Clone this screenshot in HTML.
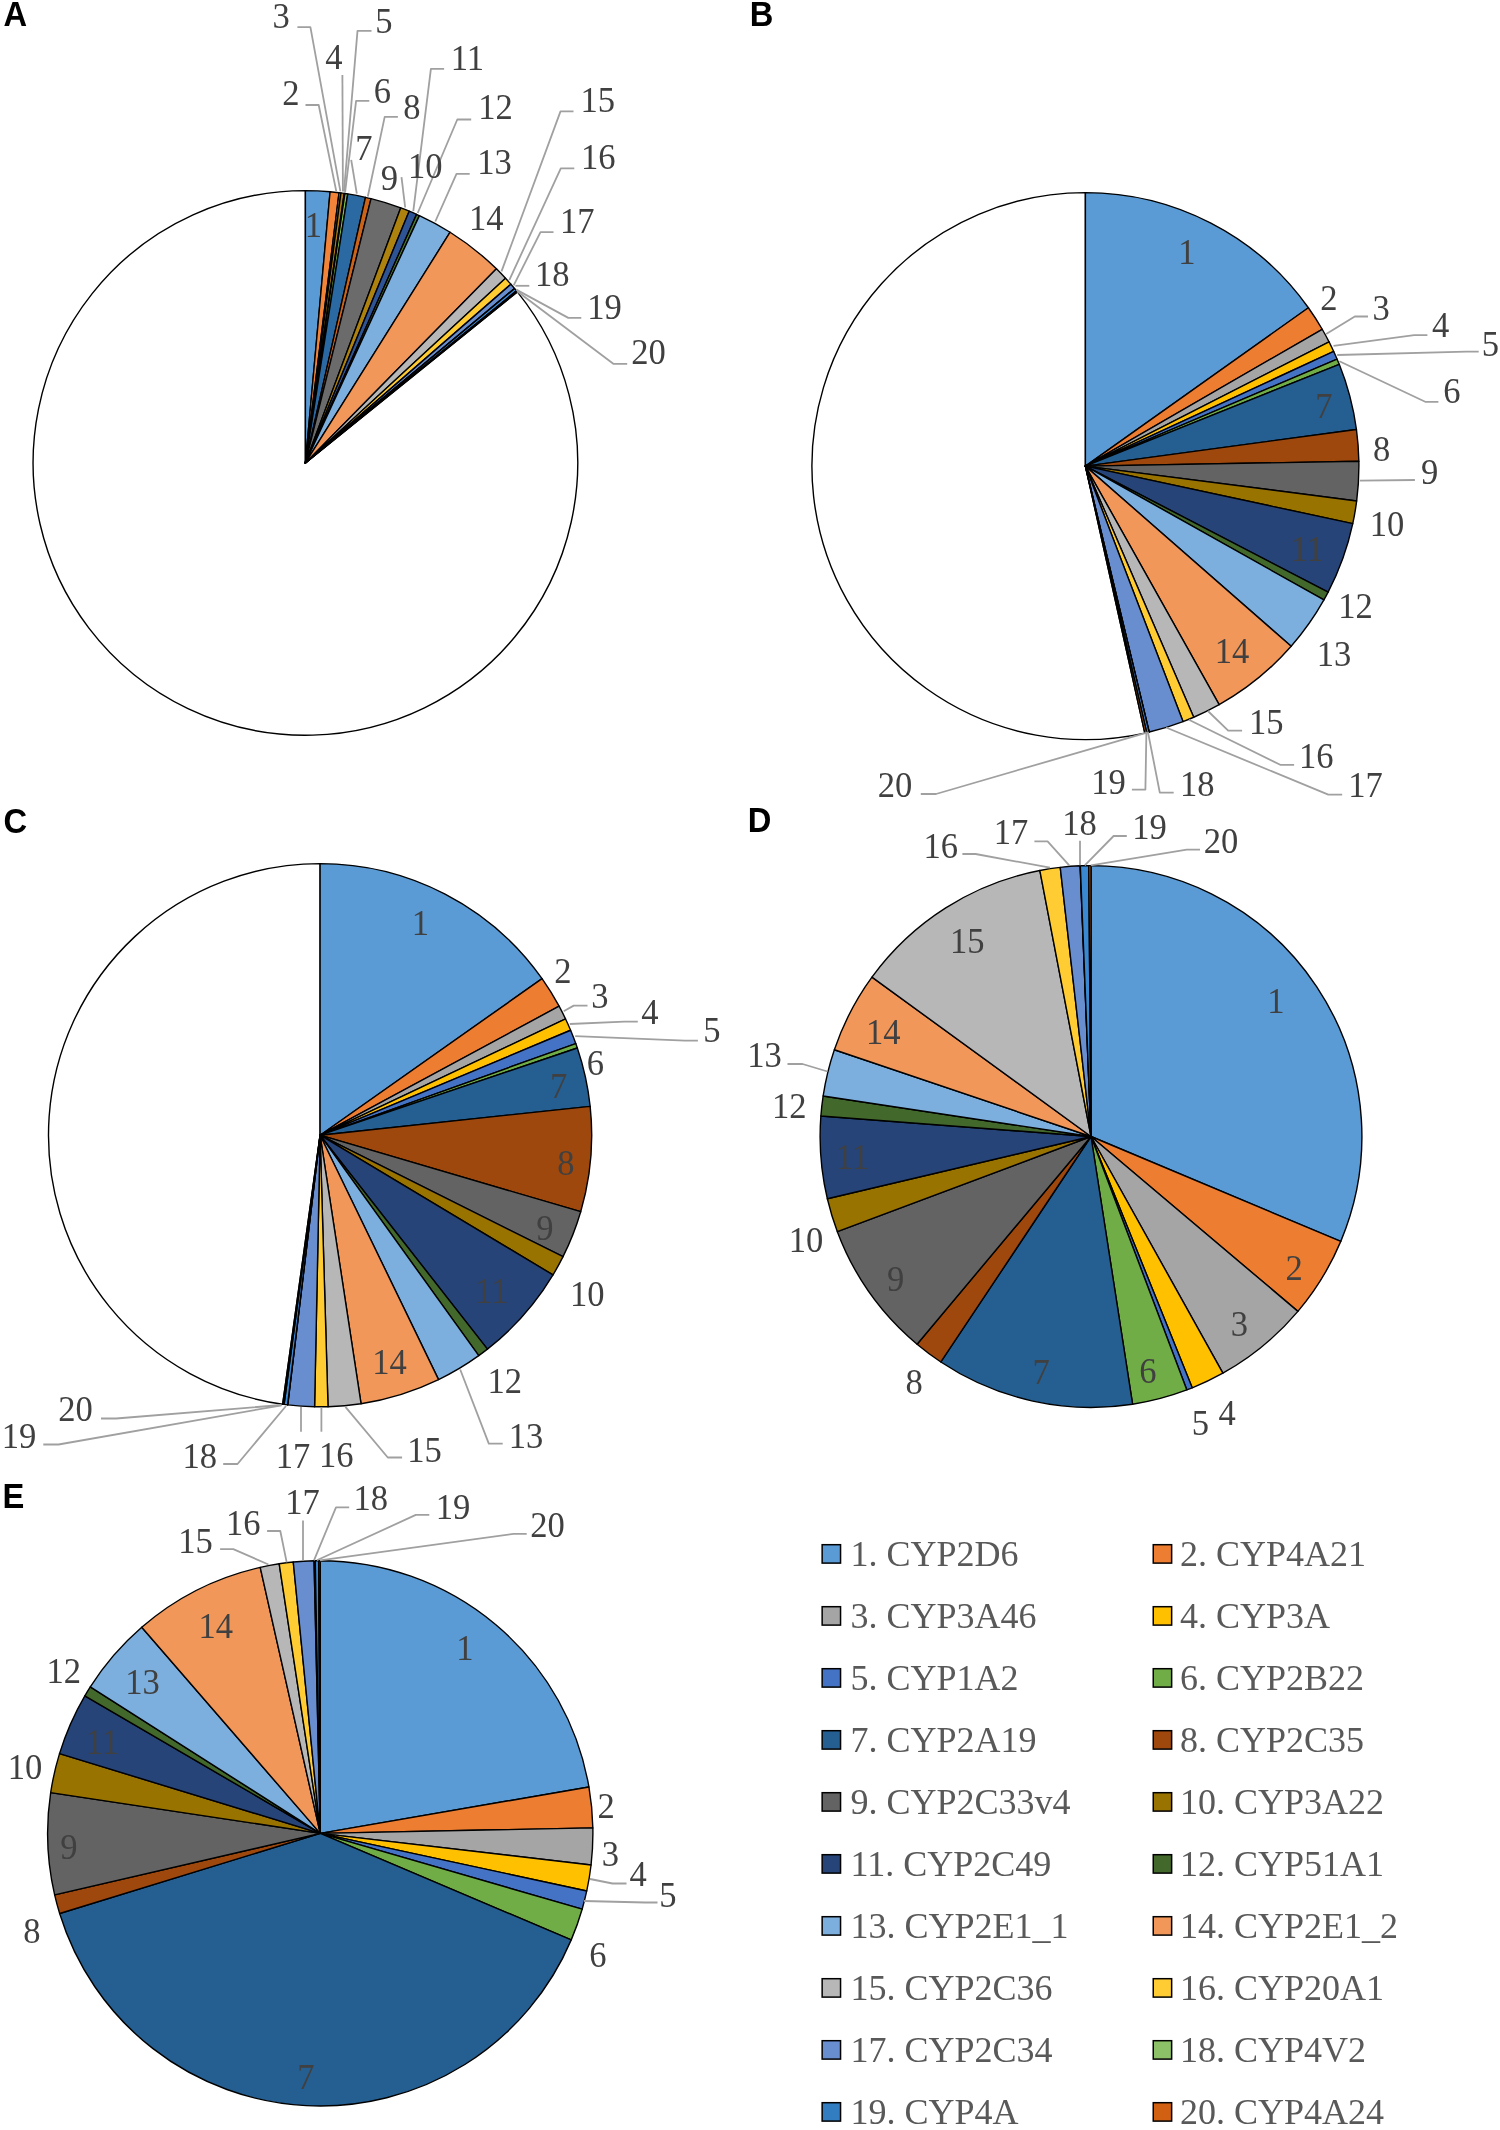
<!DOCTYPE html>
<html lang="en">
<head>
<meta charset="utf-8">
<title>CYP pie charts</title>
<style>
html,body{margin:0;padding:0;background:#fff;}
body{width:1500px;height:2130px;overflow:hidden;}
svg{display:block;will-change:transform;}
.lab{font-family:"Liberation Serif",serif;font-size:36px;fill:#404040;text-anchor:middle;}
.leg{font-family:"Liberation Serif",serif;font-size:36px;fill:#595959;}
.pan{font-family:"Liberation Sans",sans-serif;font-weight:bold;font-size:34.8px;fill:#000;}
.sl{stroke:#000;stroke-width:1.4;stroke-linejoin:round;}
.ld{fill:none;stroke:#A0A0A0;stroke-width:1.8;stroke-linejoin:round;}
</style>
</head>
<body>
<svg width="1500" height="2130" viewBox="0 0 1500 2130">
<rect width="1500" height="2130" fill="#fff"/>
<g id="pieA">
<path class="sl" fill="#fff" d="M305.4 462.9L517.32 291.91A272.3 272.3 0 1 1 305.4 190.6Z"/>
<path class="sl" fill="#5B9BD5" d="M305.4 462.9L305.4 190.6A272.3 272.3 0 0 1 330.08 191.72Z"/>
<path class="sl" fill="#F2843A" d="M305.4 462.9L330.08 191.72A272.3 272.3 0 0 1 339.06 192.69Z"/>
<path class="sl" fill="#A5A5A5" d="M305.4 462.9L339.06 192.69A272.3 272.3 0 0 1 340.94 192.93Z"/>
<path class="sl" fill="#B07A12" d="M305.4 462.9L340.94 192.93A272.3 272.3 0 0 1 344.24 193.38Z"/>
<path class="sl" fill="#4472C4" d="M305.4 462.9L344.24 193.38A272.3 272.3 0 0 1 344.94 193.49Z"/>
<path class="sl" fill="#7EC050" d="M305.4 462.9L344.94 193.49A272.3 272.3 0 0 1 347.76 193.92Z"/>
<path class="sl" fill="#2B69A2" d="M305.4 462.9L347.76 193.92A272.3 272.3 0 0 1 365.5 197.31Z"/>
<path class="sl" fill="#CB6418" d="M305.4 462.9L365.5 197.31A272.3 272.3 0 0 1 371.04 198.63Z"/>
<path class="sl" fill="#6B6B6B" d="M305.4 462.9L371.04 198.63A272.3 272.3 0 0 1 400.76 207.84Z"/>
<path class="sl" fill="#AE820F" d="M305.4 462.9L400.76 207.84A272.3 272.3 0 0 1 409.17 211.15Z"/>
<path class="sl" fill="#2F5496" d="M305.4 462.9L409.17 211.15A272.3 272.3 0 0 1 416.59 214.34Z"/>
<path class="sl" fill="#4C7A31" d="M305.4 462.9L416.59 214.34A272.3 272.3 0 0 1 419.4 215.61Z"/>
<path class="sl" fill="#7CAFDD" d="M305.4 462.9L419.4 215.61A272.3 272.3 0 0 1 450.1 232.23Z"/>
<path class="sl" fill="#F1975A" d="M305.4 462.9L450.1 232.23A272.3 272.3 0 0 1 496.43 268.85Z"/>
<path class="sl" fill="#B7B7B7" d="M305.4 462.9L496.43 268.85A272.3 272.3 0 0 1 505.52 278.24Z"/>
<path class="sl" fill="#FFCD33" d="M305.4 462.9L505.52 278.24A272.3 272.3 0 0 1 510.91 284.26Z"/>
<path class="sl" fill="#698ED0" d="M305.4 462.9L510.91 284.26A272.3 272.3 0 0 1 514.45 288.42Z"/>
<path class="sl" fill="#8CC168" d="M305.4 462.9L514.45 288.42A272.3 272.3 0 0 1 514.6 288.6Z"/>
<path class="sl" fill="#3E8FE0" d="M305.4 462.9L514.6 288.6A272.3 272.3 0 0 1 516.42 290.8Z"/>
<path class="sl" fill="#D26012" d="M305.4 462.9L516.42 290.8A272.3 272.3 0 0 1 517.32 291.91Z"/>
<polyline class="ld" points="305.5,105 318.7,105 336.3,191.4"/>
<polyline class="ld" points="297.4,27.2 310.4,27.2 340.4,191.4"/>
<polyline class="ld" points="342.4,75.1 342.9,191.4"/>
<polyline class="ld" points="371.5,30.8 357.5,30.8 344,191.4"/>
<polyline class="ld" points="369.3,100.8 356.1,100.8 345.1,192.1"/>
<polyline class="ld" points="351.2,159.9 356.8,193.6"/>
<polyline class="ld" points="397.9,116.9 384.7,116.9 367.8,196.5"/>
<polyline class="ld" points="401.5,177.2 405.2,207.5"/>
<polyline class="ld" points="444.1,68.9 430.9,68.9 413.3,211.2"/>
<polyline class="ld" points="471.2,119.5 457.3,119.5 417.7,213"/>
<polyline class="ld" points="469.7,173.8 456.5,173.8 435.3,221.5"/>
<polyline class="ld" points="573.5,111.4 560.5,111.4 501.5,271.4"/>
<polyline class="ld" points="574.3,168.3 560.8,168.3 509.3,280.1"/>
<polyline class="ld" points="553.5,232.1 540.5,232.1 513.7,285.3"/>
<polyline class="ld" points="529.3,285.8 515.4,285.8"/>
<polyline class="ld" points="581.3,317.9 568.3,317.9 516.3,289.6"/>
<polyline class="ld" points="627.2,363.8 613.3,363.8 517.1,291.3"/>
<text class="lab" transform="translate(313.5 237.4) scale(0.96 1.02)">1</text>
<text class="lab" transform="translate(290.8 105.4) scale(0.96 1.02)">2</text>
<text class="lab" transform="translate(281.2 28) scale(0.96 1.02)">3</text>
<text class="lab" transform="translate(334 68.9) scale(0.96 1.02)">4</text>
<text class="lab" transform="translate(384 32.7) scale(0.96 1.02)">5</text>
<text class="lab" transform="translate(382.5 103.1) scale(0.96 1.02)">6</text>
<text class="lab" transform="translate(363.8 160.4) scale(0.96 1.02)">7</text>
<text class="lab" transform="translate(411.8 119.2) scale(0.96 1.02)">8</text>
<text class="lab" transform="translate(389.4 190.4) scale(0.96 1.02)">9</text>
<text class="lab" transform="translate(425.3 177.9) scale(0.96 1.02)">10</text>
<text class="lab" transform="translate(467.3 69.9) scale(0.96 1.02)">11</text>
<text class="lab" transform="translate(495.5 119.4) scale(0.96 1.02)">12</text>
<text class="lab" transform="translate(494.6 174) scale(0.96 1.02)">13</text>
<text class="lab" transform="translate(486.3 230.2) scale(0.96 1.02)">14</text>
<text class="lab" transform="translate(597.8 111.5) scale(0.96 1.02)">15</text>
<text class="lab" transform="translate(598.2 168.7) scale(0.96 1.02)">16</text>
<text class="lab" transform="translate(577.3 232.5) scale(0.96 1.02)">17</text>
<text class="lab" transform="translate(552.2 286.2) scale(0.96 1.02)">18</text>
<text class="lab" transform="translate(604.6 318.6) scale(0.96 1.02)">19</text>
<text class="lab" transform="translate(648.4 364.2) scale(0.96 1.02)">20</text>
<text class="pan" transform="translate(3.6 26) scale(0.94 1)">A</text>
</g>
<g id="pieB">
<path class="sl" fill="#fff" d="M1085.4 466.1L1144.83 733.07A273.5 273.5 0 1 1 1085.4 192.6Z"/>
<path class="sl" fill="#5B9BD5" d="M1085.4 466.1L1085.4 192.6A273.5 273.5 0 0 1 1308.39 307.74Z"/>
<path class="sl" fill="#ED7D31" d="M1085.4 466.1L1308.39 307.74A273.5 273.5 0 0 1 1322.21 329.27Z"/>
<path class="sl" fill="#A5A5A5" d="M1085.4 466.1L1322.21 329.27A273.5 273.5 0 0 1 1329.05 341.85Z"/>
<path class="sl" fill="#FFC000" d="M1085.4 466.1L1329.05 341.85A273.5 273.5 0 0 1 1333.72 351.47Z"/>
<path class="sl" fill="#4472C4" d="M1085.4 466.1L1333.72 351.47A273.5 273.5 0 0 1 1337.12 359.15Z"/>
<path class="sl" fill="#70AD47" d="M1085.4 466.1L1337.12 359.15A273.5 273.5 0 0 1 1339.27 364.35Z"/>
<path class="sl" fill="#255E91" d="M1085.4 466.1L1339.27 364.35A273.5 273.5 0 0 1 1356.43 429.45Z"/>
<path class="sl" fill="#9E480E" d="M1085.4 466.1L1356.43 429.45A273.5 273.5 0 0 1 1358.86 461.28Z"/>
<path class="sl" fill="#636363" d="M1085.4 466.1L1358.86 461.28A273.5 273.5 0 0 1 1356.67 500.95Z"/>
<path class="sl" fill="#997300" d="M1085.4 466.1L1356.67 500.95A273.5 273.5 0 0 1 1352.77 523.66Z"/>
<path class="sl" fill="#264478" d="M1085.4 466.1L1352.77 523.66A273.5 273.5 0 0 1 1328.13 592.13Z"/>
<path class="sl" fill="#43682B" d="M1085.4 466.1L1328.13 592.13A273.5 273.5 0 0 1 1323.91 599.95Z"/>
<path class="sl" fill="#7CAFDD" d="M1085.4 466.1L1323.91 599.95A273.5 273.5 0 0 1 1291.15 646.29Z"/>
<path class="sl" fill="#F1975A" d="M1085.4 466.1L1291.15 646.29A273.5 273.5 0 0 1 1219.16 704.66Z"/>
<path class="sl" fill="#B7B7B7" d="M1085.4 466.1L1219.16 704.66A273.5 273.5 0 0 1 1193.71 717.24Z"/>
<path class="sl" fill="#FFCD33" d="M1085.4 466.1L1193.71 717.24A273.5 273.5 0 0 1 1183.01 721.59Z"/>
<path class="sl" fill="#698ED0" d="M1085.4 466.1L1183.01 721.59A273.5 273.5 0 0 1 1149.25 732.04Z"/>
<path class="sl" fill="#8CC168" d="M1085.4 466.1L1149.25 732.04A273.5 273.5 0 0 1 1149.11 732.08Z"/>
<path class="sl" fill="#3A88D2" d="M1085.4 466.1L1149.11 732.08A273.5 273.5 0 0 1 1146.69 732.64Z"/>
<path class="sl" fill="#D26012" d="M1085.4 466.1L1146.69 732.64A273.5 273.5 0 0 1 1144.83 733.07Z"/>
<polyline class="ld" points="1368,316.5 1354.8,316.5 1326.2,334.1"/>
<polyline class="ld" points="1427.4,335.1 1414.2,335.1 1333.5,345.8"/>
<polyline class="ld" points="1478.7,351.7 1466.3,351.7 1337.2,355"/>
<polyline class="ld" points="1438.4,401.8 1425.2,401.8 1339.4,361.2"/>
<polyline class="ld" points="1414.9,480 1359.9,480.7"/>
<polyline class="ld" points="1242.1,730.6 1228.2,730.6 1207.9,711"/>
<polyline class="ld" points="1294.1,764.8 1280.2,764.8 1188.9,719.7"/>
<polyline class="ld" points="1342.2,794.7 1328.3,794.7 1166.1,727.5"/>
<polyline class="ld" points="1173.7,792.6 1159.8,792.6 1147.9,731.8"/>
<polyline class="ld" points="1131.9,789.6 1145.4,789.6 1146.4,731.8"/>
<polyline class="ld" points="920.8,794 936,794 1146,732.8"/>
<text class="lab" transform="translate(1187 264.4) scale(0.96 1.02)">1</text>
<text class="lab" transform="translate(1328.8 310.3) scale(0.96 1.02)">2</text>
<text class="lab" transform="translate(1381.2 319.5) scale(0.96 1.02)">3</text>
<text class="lab" transform="translate(1440.6 337.4) scale(0.96 1.02)">4</text>
<text class="lab" transform="translate(1490.5 355.7) scale(0.96 1.02)">5</text>
<text class="lab" transform="translate(1452 403.4) scale(0.96 1.02)">6</text>
<text class="lab" transform="translate(1324 418.1) scale(0.96 1.02)">7</text>
<text class="lab" transform="translate(1381.6 460.6) scale(0.96 1.02)">8</text>
<text class="lab" transform="translate(1429.6 483.6) scale(0.96 1.02)">9</text>
<text class="lab" transform="translate(1387 536) scale(0.96 1.02)">10</text>
<text class="lab" transform="translate(1307.4 560.7) scale(0.96 1.02)">11</text>
<text class="lab" transform="translate(1355.5 618.2) scale(0.96 1.02)">12</text>
<text class="lab" transform="translate(1334 665.6) scale(0.96 1.02)">13</text>
<text class="lab" transform="translate(1232 663.1) scale(0.96 1.02)">14</text>
<text class="lab" transform="translate(1266.2 733.5) scale(0.96 1.02)">15</text>
<text class="lab" transform="translate(1316.2 767.7) scale(0.96 1.02)">16</text>
<text class="lab" transform="translate(1365.6 797.3) scale(0.96 1.02)">17</text>
<text class="lab" transform="translate(1197.2 795.6) scale(0.96 1.02)">18</text>
<text class="lab" transform="translate(1108.5 794.3) scale(0.96 1.02)">19</text>
<text class="lab" transform="translate(895 797.2) scale(0.96 1.02)">20</text>
<text class="pan" transform="translate(749.8 25.9) scale(0.94 1)">B</text>
</g>
<g id="pieC">
<path class="sl" fill="#fff" d="M320.1 1135.2L282.68 1404.21A271.6 271.6 0 0 1 320.1 863.6Z"/>
<path class="sl" fill="#5B9BD5" d="M320.1 1135.2L320.1 863.6A271.6 271.6 0 0 1 542.06 978.68Z"/>
<path class="sl" fill="#ED7D31" d="M320.1 1135.2L542.06 978.68A271.6 271.6 0 0 1 559.1 1006.19Z"/>
<path class="sl" fill="#A5A5A5" d="M320.1 1135.2L559.1 1006.19A271.6 271.6 0 0 1 565.57 1018.96Z"/>
<path class="sl" fill="#FFC000" d="M320.1 1135.2L565.57 1018.96A271.6 271.6 0 0 1 570.61 1030.26Z"/>
<path class="sl" fill="#4472C4" d="M320.1 1135.2L570.61 1030.26A271.6 271.6 0 0 1 575.77 1043.56Z"/>
<path class="sl" fill="#70AD47" d="M320.1 1135.2L575.77 1043.56A271.6 271.6 0 0 1 577.33 1048.03Z"/>
<path class="sl" fill="#255E91" d="M320.1 1135.2L577.33 1048.03A271.6 271.6 0 0 1 590.16 1106.34Z"/>
<path class="sl" fill="#9E480E" d="M320.1 1135.2L590.16 1106.34A271.6 271.6 0 0 1 580.7 1211.7Z"/>
<path class="sl" fill="#636363" d="M320.1 1135.2L580.7 1211.7A271.6 271.6 0 0 1 563.02 1256.68Z"/>
<path class="sl" fill="#997300" d="M320.1 1135.2L563.02 1256.68A271.6 271.6 0 0 1 553 1274.92Z"/>
<path class="sl" fill="#264478" d="M320.1 1135.2L553 1274.92A271.6 271.6 0 0 1 487.43 1349.14Z"/>
<path class="sl" fill="#43682B" d="M320.1 1135.2L487.43 1349.14A271.6 271.6 0 0 1 478.74 1355.65Z"/>
<path class="sl" fill="#7CAFDD" d="M320.1 1135.2L478.74 1355.65A271.6 271.6 0 0 1 438.56 1379.6Z"/>
<path class="sl" fill="#F1975A" d="M320.1 1135.2L438.56 1379.6A271.6 271.6 0 0 1 361.04 1403.7Z"/>
<path class="sl" fill="#B7B7B7" d="M320.1 1135.2L361.04 1403.7A271.6 271.6 0 0 1 328.02 1406.68Z"/>
<path class="sl" fill="#FFCD33" d="M320.1 1135.2L328.02 1406.68A271.6 271.6 0 0 1 314.6 1406.74Z"/>
<path class="sl" fill="#698ED0" d="M320.1 1135.2L314.6 1406.74A271.6 271.6 0 0 1 287.75 1404.87Z"/>
<path class="sl" fill="#8CC168" d="M320.1 1135.2L287.75 1404.87A271.6 271.6 0 0 1 287.56 1404.84Z"/>
<path class="sl" fill="#3A88D2" d="M320.1 1135.2L287.56 1404.84A271.6 271.6 0 0 1 284.09 1404.4Z"/>
<path class="sl" fill="#D26012" d="M320.1 1135.2L284.09 1404.4A271.6 271.6 0 0 1 282.68 1404.21Z"/>
<polyline class="ld" points="587.5,1005.6 573.7,1005.6 563.7,1011.3"/>
<polyline class="ld" points="637.8,1021.6 624.3,1021.6 569.8,1024"/>
<polyline class="ld" points="697.9,1040.7 684.8,1040.7 575.2,1036.1"/>
<polyline class="ld" points="502.7,1443.6 488.8,1443.6 460.2,1369.5"/>
<polyline class="ld" points="402.1,1457.5 387.8,1457.5 345.4,1406.8"/>
<polyline class="ld" points="321.4,1407.5 321.4,1431.7"/>
<polyline class="ld" points="301,1407 301,1431.7"/>
<polyline class="ld" points="223.2,1464 237.5,1464 286,1406"/>
<polyline class="ld" points="43.3,1444.5 58.5,1444.5 281.6,1405.3"/>
<polyline class="ld" points="101,1418.5 116.1,1418.5 281.3,1405"/>
<text class="lab" transform="translate(420.5 935.4) scale(0.96 1.02)">1</text>
<text class="lab" transform="translate(563 982.6) scale(0.96 1.02)">2</text>
<text class="lab" transform="translate(599.8 1007.9) scale(0.96 1.02)">3</text>
<text class="lab" transform="translate(650 1024) scale(0.96 1.02)">4</text>
<text class="lab" transform="translate(712 1042.4) scale(0.96 1.02)">5</text>
<text class="lab" transform="translate(595.5 1074.6) scale(0.96 1.02)">6</text>
<text class="lab" transform="translate(558.7 1097.6) scale(0.96 1.02)">7</text>
<text class="lab" transform="translate(566 1174.6) scale(0.96 1.02)">8</text>
<text class="lab" transform="translate(545 1239.7) scale(0.96 1.02)">9</text>
<text class="lab" transform="translate(587.2 1306.2) scale(0.96 1.02)">10</text>
<text class="lab" transform="translate(491.8 1303.2) scale(0.96 1.02)">11</text>
<text class="lab" transform="translate(504.8 1392.9) scale(0.96 1.02)">12</text>
<text class="lab" transform="translate(526 1448.4) scale(0.96 1.02)">13</text>
<text class="lab" transform="translate(389.4 1374.3) scale(0.96 1.02)">14</text>
<text class="lab" transform="translate(424.6 1462) scale(0.96 1.02)">15</text>
<text class="lab" transform="translate(336.3 1466.6) scale(0.96 1.02)">16</text>
<text class="lab" transform="translate(292.9 1467.9) scale(0.96 1.02)">17</text>
<text class="lab" transform="translate(199.8 1468.4) scale(0.96 1.02)">18</text>
<text class="lab" transform="translate(19.1 1448.3) scale(0.96 1.02)">19</text>
<text class="lab" transform="translate(75.4 1420.6) scale(0.96 1.02)">20</text>
<text class="pan" transform="translate(3.5 832.6) scale(0.94 1)">C</text>
</g>
<g id="pieD">
<path class="sl" fill="#5B9BD5" d="M1091 1136.5L1091 865.6A270.9 270.9 0 0 1 1340.77 1241.39Z"/>
<path class="sl" fill="#ED7D31" d="M1091 1136.5L1340.77 1241.39A270.9 270.9 0 0 1 1297.91 1311.35Z"/>
<path class="sl" fill="#A5A5A5" d="M1091 1136.5L1297.91 1311.35A270.9 270.9 0 0 1 1222.87 1373.14Z"/>
<path class="sl" fill="#FFC000" d="M1091 1136.5L1222.87 1373.14A270.9 270.9 0 0 1 1192.22 1387.78Z"/>
<path class="sl" fill="#4472C4" d="M1091 1136.5L1192.22 1387.78A270.9 270.9 0 0 1 1186.84 1389.88Z"/>
<path class="sl" fill="#70AD47" d="M1091 1136.5L1186.84 1389.88A270.9 270.9 0 0 1 1132.58 1404.19Z"/>
<path class="sl" fill="#255E91" d="M1091 1136.5L1132.58 1404.19A270.9 270.9 0 0 1 940.85 1361.98Z"/>
<path class="sl" fill="#9E480E" d="M1091 1136.5L940.85 1361.98A270.9 270.9 0 0 1 917.09 1344.2Z"/>
<path class="sl" fill="#636363" d="M1091 1136.5L917.09 1344.2A270.9 270.9 0 0 1 837.35 1231.64Z"/>
<path class="sl" fill="#997300" d="M1091 1136.5L837.35 1231.64A270.9 270.9 0 0 1 827.35 1198.77Z"/>
<path class="sl" fill="#264478" d="M1091 1136.5L827.35 1198.77A270.9 270.9 0 0 1 820.87 1116.05Z"/>
<path class="sl" fill="#43682B" d="M1091 1136.5L820.87 1116.05A270.9 270.9 0 0 1 823.15 1095.94Z"/>
<path class="sl" fill="#7CAFDD" d="M1091 1136.5L823.15 1095.94A270.9 270.9 0 0 1 834.36 1049.78Z"/>
<path class="sl" fill="#F1975A" d="M1091 1136.5L834.36 1049.78A270.9 270.9 0 0 1 871.95 977.12Z"/>
<path class="sl" fill="#B7B7B7" d="M1091 1136.5L871.95 977.12A270.9 270.9 0 0 1 1039.82 870.48Z"/>
<path class="sl" fill="#FFCD33" d="M1091 1136.5L1039.82 870.48A270.9 270.9 0 0 1 1060.24 867.35Z"/>
<path class="sl" fill="#698ED0" d="M1091 1136.5L1060.24 867.35A270.9 270.9 0 0 1 1080.13 865.82Z"/>
<path class="sl" fill="#8CC168" d="M1091 1136.5L1080.13 865.82A270.9 270.9 0 0 1 1080.32 865.81Z"/>
<path class="sl" fill="#3A88D2" d="M1091 1136.5L1080.32 865.81A270.9 270.9 0 0 1 1088.78 865.61Z"/>
<path class="sl" fill="#D26012" d="M1091 1136.5L1088.78 865.61A270.9 270.9 0 0 1 1091 865.6Z"/>
<polyline class="ld" points="787.5,1064 802.5,1064 827.5,1071.5"/>
<polyline class="ld" points="962.4,854 975.6,854 1050,867.7"/>
<polyline class="ld" points="1034.4,841.3 1047.6,841.3 1069.2,865.3"/>
<polyline class="ld" points="1080,840.8 1080,865.3"/>
<polyline class="ld" points="1126.8,836 1113.6,836 1084.8,865.3"/>
<polyline class="ld" points="1200,849.7 1186.8,849.7 1090.8,865.3"/>
<text class="lab" transform="translate(1276 1012.9) scale(0.96 1.02)">1</text>
<text class="lab" transform="translate(1294.2 1280.4) scale(0.96 1.02)">2</text>
<text class="lab" transform="translate(1239.5 1336.4) scale(0.96 1.02)">3</text>
<text class="lab" transform="translate(1227.2 1425.4) scale(0.96 1.02)">4</text>
<text class="lab" transform="translate(1200.5 1435.4) scale(0.96 1.02)">5</text>
<text class="lab" transform="translate(1148 1382.9) scale(0.96 1.02)">6</text>
<text class="lab" transform="translate(1041.2 1384.4) scale(0.96 1.02)">7</text>
<text class="lab" transform="translate(914.2 1394.4) scale(0.96 1.02)">8</text>
<text class="lab" transform="translate(895.6 1291) scale(0.96 1.02)">9</text>
<text class="lab" transform="translate(806 1251.7) scale(0.96 1.02)">10</text>
<text class="lab" transform="translate(852.5 1169.4) scale(0.96 1.02)">11</text>
<text class="lab" transform="translate(789.2 1117.9) scale(0.96 1.02)">12</text>
<text class="lab" transform="translate(764.5 1067.2) scale(0.96 1.02)">13</text>
<text class="lab" transform="translate(883.2 1044.4) scale(0.96 1.02)">14</text>
<text class="lab" transform="translate(967.2 952.8) scale(0.96 1.02)">15</text>
<text class="lab" transform="translate(940.8 857.5) scale(0.96 1.02)">16</text>
<text class="lab" transform="translate(1011 844.1) scale(0.96 1.02)">17</text>
<text class="lab" transform="translate(1079.4 835.3) scale(0.96 1.02)">18</text>
<text class="lab" transform="translate(1149.6 838.8) scale(0.96 1.02)">19</text>
<text class="lab" transform="translate(1221 852.7) scale(0.96 1.02)">20</text>
<text class="pan" transform="translate(747.8 832) scale(0.94 1)">D</text>
</g>
<g id="pieE">
<path class="sl" fill="#5B9BD5" d="M320.25 1833.35L320.25 1560.7A272.65 272.65 0 0 1 588.92 1786.94Z"/>
<path class="sl" fill="#ED7D31" d="M320.25 1833.35L588.92 1786.94A272.65 272.65 0 0 1 592.85 1827.88Z"/>
<path class="sl" fill="#A5A5A5" d="M320.25 1833.35L592.85 1827.88A272.65 272.65 0 0 1 591.06 1864.97Z"/>
<path class="sl" fill="#FFC000" d="M320.25 1833.35L591.06 1864.97A272.65 272.65 0 0 1 586.74 1890.97Z"/>
<path class="sl" fill="#4472C4" d="M320.25 1833.35L586.74 1890.97A272.65 272.65 0 0 1 582.14 1909.19Z"/>
<path class="sl" fill="#70AD47" d="M320.25 1833.35L582.14 1909.19A272.65 272.65 0 0 1 571.23 1939.88Z"/>
<path class="sl" fill="#255E91" d="M320.25 1833.35L571.23 1939.88A272.65 272.65 0 0 1 59.65 1913.52Z"/>
<path class="sl" fill="#9E480E" d="M320.25 1833.35L59.65 1913.52A272.65 272.65 0 0 1 54.64 1894.91Z"/>
<path class="sl" fill="#636363" d="M320.25 1833.35L54.64 1894.91A272.65 272.65 0 0 1 50.67 1792.58Z"/>
<path class="sl" fill="#997300" d="M320.25 1833.35L50.67 1792.58A272.65 272.65 0 0 1 59.51 1753.63Z"/>
<path class="sl" fill="#264478" d="M320.25 1833.35L59.51 1753.63A272.65 272.65 0 0 1 84.85 1695.79Z"/>
<path class="sl" fill="#43682B" d="M320.25 1833.35L84.85 1695.79A272.65 272.65 0 0 1 90.3 1686.86Z"/>
<path class="sl" fill="#7CAFDD" d="M320.25 1833.35L90.3 1686.86A272.65 272.65 0 0 1 141.73 1627.27Z"/>
<path class="sl" fill="#F1975A" d="M320.25 1833.35L141.73 1627.27A272.65 272.65 0 0 1 260.22 1567.39Z"/>
<path class="sl" fill="#B7B7B7" d="M320.25 1833.35L260.22 1567.39A272.65 272.65 0 0 1 279.2 1563.81Z"/>
<path class="sl" fill="#FFCD33" d="M320.25 1833.35L279.2 1563.81A272.65 272.65 0 0 1 293.27 1562.04Z"/>
<path class="sl" fill="#698ED0" d="M320.25 1833.35L293.27 1562.04A272.65 272.65 0 0 1 314.06 1560.77Z"/>
<path class="sl" fill="#8CC168" d="M320.25 1833.35L314.06 1560.77A272.65 272.65 0 0 1 315.25 1560.75Z"/>
<path class="sl" fill="#3A88D2" d="M320.25 1833.35L315.25 1560.75A272.65 272.65 0 0 1 318.68 1560.7Z"/>
<path class="sl" fill="#D26012" d="M320.25 1833.35L318.68 1560.7A272.65 272.65 0 0 1 320.25 1560.7Z"/>
<polyline class="ld" points="626.5,1883.5 612.5,1883.5 590,1879"/>
<polyline class="ld" points="657.5,1902.5 645,1902.5 584,1901"/>
<polyline class="ld" points="220.1,1549.2 233.3,1549.2 268.5,1564.5"/>
<polyline class="ld" points="267.1,1531 280.3,1531 286.7,1562.4"/>
<polyline class="ld" points="303,1520.5 303,1560.5"/>
<polyline class="ld" points="349.2,1507.3 336,1507.3 314,1560.3"/>
<polyline class="ld" points="429.3,1514.9 415.8,1514.9 316.9,1560.3"/>
<polyline class="ld" points="526.7,1533.9 513.5,1533.9 319.9,1560.3"/>
<text class="lab" transform="translate(465 1659.6) scale(0.96 1.02)">1</text>
<text class="lab" transform="translate(606.2 1818) scale(0.96 1.02)">2</text>
<text class="lab" transform="translate(610.5 1866.4) scale(0.96 1.02)">3</text>
<text class="lab" transform="translate(638.2 1885.9) scale(0.96 1.02)">4</text>
<text class="lab" transform="translate(668 1907.1) scale(0.96 1.02)">5</text>
<text class="lab" transform="translate(597.8 1966.5) scale(0.96 1.02)">6</text>
<text class="lab" transform="translate(305.8 2089.4) scale(0.96 1.02)">7</text>
<text class="lab" transform="translate(31.8 1942.9) scale(0.96 1.02)">8</text>
<text class="lab" transform="translate(69 1858.7) scale(0.96 1.02)">9</text>
<text class="lab" transform="translate(25 1778.9) scale(0.96 1.02)">10</text>
<text class="lab" transform="translate(102.5 1754.4) scale(0.96 1.02)">11</text>
<text class="lab" transform="translate(63.8 1682.9) scale(0.96 1.02)">12</text>
<text class="lab" transform="translate(142.5 1694.4) scale(0.96 1.02)">13</text>
<text class="lab" transform="translate(215.8 1637.6) scale(0.96 1.02)">14</text>
<text class="lab" transform="translate(195.5 1553.1) scale(0.96 1.02)">15</text>
<text class="lab" transform="translate(243.3 1534.9) scale(0.96 1.02)">16</text>
<text class="lab" transform="translate(302.5 1514.4) scale(0.96 1.02)">17</text>
<text class="lab" transform="translate(370.8 1510) scale(0.96 1.02)">18</text>
<text class="lab" transform="translate(452.9 1518.8) scale(0.96 1.02)">19</text>
<text class="lab" transform="translate(547.5 1537.3) scale(0.96 1.02)">20</text>
<text class="pan" transform="translate(2.6 1508) scale(0.94 1)">E</text>
</g>
<g id="legend">
<rect x="822.15" y="1544.7" width="18.4" height="18.4" fill="#5B9BD5" stroke="#000" stroke-width="1.5"/>
<text class="leg" x="850.5" y="1566.3">1. CYP2D6</text>
<rect x="1153.25" y="1544.7" width="18.4" height="18.4" fill="#ED7D31" stroke="#000" stroke-width="1.5"/>
<text class="leg" x="1180" y="1566.3">2. CYP4A21</text>
<rect x="822.15" y="1606.7" width="18.4" height="18.4" fill="#A5A5A5" stroke="#000" stroke-width="1.5"/>
<text class="leg" x="850.5" y="1628.3">3. CYP3A46</text>
<rect x="1153.25" y="1606.7" width="18.4" height="18.4" fill="#FFC000" stroke="#000" stroke-width="1.5"/>
<text class="leg" x="1180" y="1628.3">4. CYP3A</text>
<rect x="822.15" y="1668.7" width="18.4" height="18.4" fill="#4472C4" stroke="#000" stroke-width="1.5"/>
<text class="leg" x="850.5" y="1690.3">5. CYP1A2</text>
<rect x="1153.25" y="1668.7" width="18.4" height="18.4" fill="#70AD47" stroke="#000" stroke-width="1.5"/>
<text class="leg" x="1180" y="1690.3">6. CYP2B22</text>
<rect x="822.15" y="1730.7" width="18.4" height="18.4" fill="#255E91" stroke="#000" stroke-width="1.5"/>
<text class="leg" x="850.5" y="1752.3">7. CYP2A19</text>
<rect x="1153.25" y="1730.7" width="18.4" height="18.4" fill="#9E480E" stroke="#000" stroke-width="1.5"/>
<text class="leg" x="1180" y="1752.3">8. CYP2C35</text>
<rect x="822.15" y="1792.7" width="18.4" height="18.4" fill="#636363" stroke="#000" stroke-width="1.5"/>
<text class="leg" x="850.5" y="1814.3">9. CYP2C33v4</text>
<rect x="1153.25" y="1792.7" width="18.4" height="18.4" fill="#997300" stroke="#000" stroke-width="1.5"/>
<text class="leg" x="1180" y="1814.3">10. CYP3A22</text>
<rect x="822.15" y="1854.7" width="18.4" height="18.4" fill="#264478" stroke="#000" stroke-width="1.5"/>
<text class="leg" x="850.5" y="1876.3">11. CYP2C49</text>
<rect x="1153.25" y="1854.7" width="18.4" height="18.4" fill="#43682B" stroke="#000" stroke-width="1.5"/>
<text class="leg" x="1180" y="1876.3">12. CYP51A1</text>
<rect x="822.15" y="1916.7" width="18.4" height="18.4" fill="#7CAFDD" stroke="#000" stroke-width="1.5"/>
<text class="leg" x="850.5" y="1938.3">13. CYP2E1_1</text>
<rect x="1153.25" y="1916.7" width="18.4" height="18.4" fill="#F1975A" stroke="#000" stroke-width="1.5"/>
<text class="leg" x="1180" y="1938.3">14. CYP2E1_2</text>
<rect x="822.15" y="1978.7" width="18.4" height="18.4" fill="#B7B7B7" stroke="#000" stroke-width="1.5"/>
<text class="leg" x="850.5" y="2000.3">15. CYP2C36</text>
<rect x="1153.25" y="1978.7" width="18.4" height="18.4" fill="#FFCD33" stroke="#000" stroke-width="1.5"/>
<text class="leg" x="1180" y="2000.3">16. CYP20A1</text>
<rect x="822.15" y="2040.7" width="18.4" height="18.4" fill="#698ED0" stroke="#000" stroke-width="1.5"/>
<text class="leg" x="850.5" y="2062.3">17. CYP2C34</text>
<rect x="1153.25" y="2040.7" width="18.4" height="18.4" fill="#8CC168" stroke="#000" stroke-width="1.5"/>
<text class="leg" x="1180" y="2062.3">18. CYP4V2</text>
<rect x="822.15" y="2102.7" width="18.4" height="18.4" fill="#327DC2" stroke="#000" stroke-width="1.5"/>
<text class="leg" x="850.5" y="2124.3">19. CYP4A</text>
<rect x="1153.25" y="2102.7" width="18.4" height="18.4" fill="#D26012" stroke="#000" stroke-width="1.5"/>
<text class="leg" x="1180" y="2124.3">20. CYP4A24</text>
</g>
</svg>
</body>
</html>
